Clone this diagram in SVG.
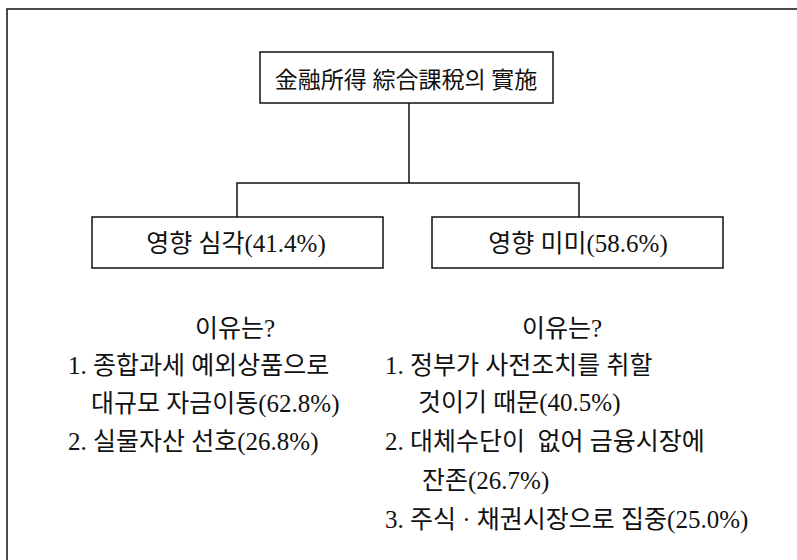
<svg xmlns="http://www.w3.org/2000/svg" width="797" height="560" viewBox="0 0 797 560">
<style>
.t{font-family:"Liberation Serif","Noto Sans CJK KR",serif;font-size:25px;fill:#111;white-space:pre}
.ti{font-size:23px}
.c{text-anchor:middle}
.box{fill:#fff;stroke:#111;stroke-width:1.5}
.ln{stroke:#111;stroke-width:1.5;fill:none}
</style>
<rect width="797" height="560" fill="#fff"/>
<path class="ln" d="M7,560 V9 H797"/>
<g id="connectors">
<path class="ln" d="M409,103 V183"/>
<path class="ln" d="M237,217 V183 H579 V217"/>
</g>
<g id="title">
<rect class="box" x="260" y="52" width="293" height="51"/>
<text class="t ti c" x="406" y="88">金融所得 綜合課稅의 實施</text>
</g>
<g id="serious">
<rect class="box" x="92" y="217" width="291" height="51"/>
<text class="t c" x="236" y="252">영향 심각(41.4%)</text>
</g>
<g id="minor">
<rect class="box" x="432" y="217" width="291" height="51"/>
<text class="t c" x="578" y="252">영향 미미(58.6%)</text>
</g>
<g id="reasons-left">
<text class="t c" x="235" y="337">이유는?</text>
<text class="t" x="68" y="374">1. 종합과세 예외상품으로</text>
<text class="t" x="91" y="412">대규모 자금이동(62.8%)</text>
<text class="t" x="68" y="450">2. 실물자산 선호(26.8%)</text>
</g>
<g id="reasons-right">
<text class="t c" x="562" y="337">이유는?</text>
<text class="t" x="385" y="374">1. 정부가 사전조치를 취할</text>
<text class="t" x="418" y="411">것이기 때문(40.5%)</text>
<text class="t" x="385" y="450">2. 대체수단이  없어 금융시장에</text>
<text class="t" x="422" y="489">잔존(26.7%)</text>
<text class="t" x="385" y="528">3. 주식 · 채권시장으로 집중(25.0%)</text>
</g>
</svg>
